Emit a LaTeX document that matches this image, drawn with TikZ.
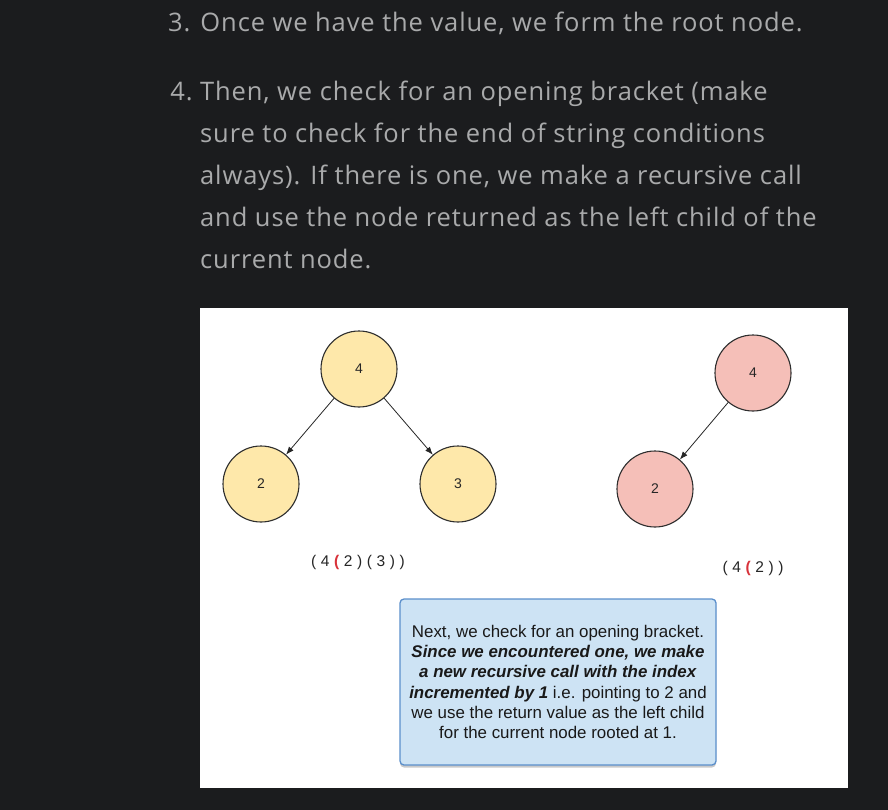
\documentclass[tikz,border=0pt]{standalone}
\usepackage{fontspec}
\setmainfont{Liberation Sans}
\newfontfamily\pagefont[LetterSpace=3.5]{Open Sans}
\usepackage{tikz}
\usetikzlibrary{positioning, arrows.meta, shadows}

\definecolor{pagebg}{HTML}{1B1C1E}
\definecolor{pagetext}{HTML}{A9AAAB}
\definecolor{oldfill}{HTML}{FEE8AA}
\definecolor{newfill}{HTML}{F5BFB8}
\definecolor{nodeline}{HTML}{2E2E2E}
\definecolor{notefill}{HTML}{CDE3F4}
\definecolor{noteline}{HTML}{5B8FCB}
\definecolor{bracketred}{HTML}{D8323A}

\begin{document}
\begin{tikzpicture}[
	  x=1pt, y=-1pt,
	  font=\fontsize{15}{20}\selectfont,
	  para/.style={
	    text=pagetext,
	    font=\pagefont\fontsize{25.5}{42}\selectfont,
	    inner sep=0pt,
	    align=left
	  },
	  treenode/.style={
	    circle,
	    draw=nodeline,
	    line width=1.1pt,
	    minimum size=76pt,
	    inner sep=0pt,
	    text=black!85,
	    font=\fontsize{14}{14}\selectfont
	  },
	  oldnode/.style={treenode,fill=oldfill},
	  newnode/.style={treenode,fill=newfill},
	  expr/.style={
	    font=\fontsize{15.5}{15.5}\selectfont,
	    execute at begin node={\spaceskip=4.6pt\relax},
	    text=black!85
	  },
	  notebox/.style={
	    draw=noteline,
	    line width=1.3pt,
	    fill=notefill,
	    rounded corners=4pt,
	    minimum width=316pt,
	    minimum height=166pt,
	    align=center,
	    text=black!90,
	    font=\fontsize{16.9}{20.3}\selectfont,
	    drop shadow={shadow xshift=0pt, shadow yshift=-2.5pt, opacity=0.35, fill=black!60}
	  },
	  arrow/.style={-{Latex[length=8pt,width=6pt]},line width=0.8pt,draw=black!85}
	]

	% --- page ---
	\fill[pagebg] (0,0) rectangle (888,810);
	\useasboundingbox (0,0) rectangle (888,810);
	\node[para, anchor=base west] (step3) at (168,32) {3. Once we have the value, we form the root node.};
	\node[para, anchor=north west] (step4) at (200,81) {\llap{4.\ }Then, we check for an opening bracket (make\\
	  sure to check for the end of string conditions\\
	  always). If there is one, we make a recursive call\\
	  and use the node returned as the left child of the\\
	  current node.};

	% --- figure panel ---
	\fill[white] (200,308) rectangle (848,788);

	% --- Left tree ---
	\node[oldnode] (root) at (359,369) {4};
	\node[oldnode] (left) at (261,484) {2};
	\node[oldnode] (right) at (458,484) {3};
	\node[expr] (fullexpr) at (358,562) {( 4 {\color{bracketred}\textbf{(}} 2 ) ( 3 ) )};

	% --- Right tree ---
	\node[newnode] (curroot) at (753,373) {4};
	\node[newnode] (curleft) at (655,489) {2};
	\node[expr] (partexpr) at (753,568) {( 4 {\color{bracketred}\textbf{(}} 2 ) )};

	% --- Note ---
	\node[notebox] (note) at (558,682) {Next, we check for an opening bracket.\\
	  \textbf{\textit{Since we encountered one, we make}}\\
	  \textbf{\textit{a new recursive call with the index}}\\
	  \textbf{\textit{incremented by 1}} i.e. pointing to 2 and\\
	  we use the return value as the left child\\
	  for the current node rooted at 1.};

	% --- Flows ---
	\draw[arrow] (root) -- (left);
	\draw[arrow] (root) -- (right);
	\draw[arrow] (curroot) -- (curleft);

\end{tikzpicture}
\end{document}
